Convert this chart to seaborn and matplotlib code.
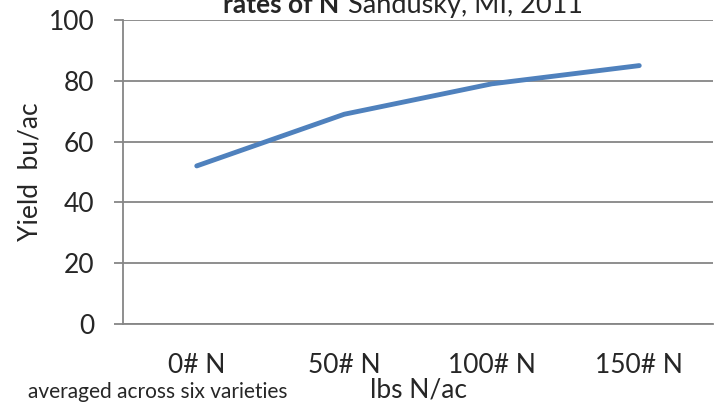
import numpy as np
import pandas as pd
import matplotlib.pyplot as plt
import seaborn as sns

# chart data
rates = ['0# N', '50# N', '100# N', '150# N']
yield_bu = [52, 69, 79, 85]

sns.set_style("white")
plt.rcParams['font.family'] = ['Lato', 'DejaVu Sans']

df = pd.DataFrame({'pos': np.arange(len(rates)), 'Yield': yield_bu})

fig = plt.figure(figsize=(7.15, 4.04), dpi=100)
ax = fig.add_axes([123 / 715, 1 - 324 / 404, (713 - 123) / 715, (324 - 20) / 404])

grid_col = '#868686'
sns.lineplot(data=df, x='pos', y='Yield', ax=ax, color='#4F81BD', linewidth=3.5,
             solid_capstyle='round', zorder=3)

ax.set_xlim(-0.5, len(rates) - 0.5)
ax.set_ylim(0, 100)
ax.set_yticks(range(0, 101, 20))
ax.yaxis.grid(True, color=grid_col, linewidth=1.3)
ax.set_axisbelow(True)

# category labels without marks, boundary ticks as minor ticks
ax.set_xticks(np.arange(len(rates)))
ax.set_xticklabels(rates)
ax.set_xticks(np.arange(-0.5, len(rates)), minor=True)
ax.tick_params(axis='x', which='major', length=0, labelsize=19, pad=21)
ax.tick_params(axis='x', which='minor', length=6.5, width=1.3, color=grid_col, direction='out')
ax.tick_params(axis='y', length=6.5, width=1.3, color=grid_col, direction='out',
               labelsize=19, pad=14, left=True)

for side in ['top', 'right']:
    ax.spines[side].set_visible(False)
for side in ['left', 'bottom']:
    ax.spines[side].set_color(grid_col)
    ax.spines[side].set_linewidth(1.3)

ax.set_xlabel('')
ax.set_ylabel('')
fig.text(30 / 715, 1 - 172 / 404, 'Yield  bu/ac', fontsize=19, rotation=90,
         ha='center', va='center')

fig.text(418 / 715, 1 - 390 / 404, 'lbs N/ac', fontsize=19, ha='center', va='center')
fig.text(28 / 715, 1 - 392 / 404, 'averaged across six varieties', fontsize=15,
         ha='left', va='center')

# title, top part cut off by the figure edge (as in the source image)
fig.text(339 / 715, 1 - 13 / 404, 'rates of N', fontsize=19, fontweight='bold',
         ha='right', va='baseline')
fig.text(348 / 715, 1 - 13 / 404, 'Sandusky, MI, 2011', fontsize=19.5,
         ha='left', va='baseline')

plt.savefig('out.png', dpi=100)
